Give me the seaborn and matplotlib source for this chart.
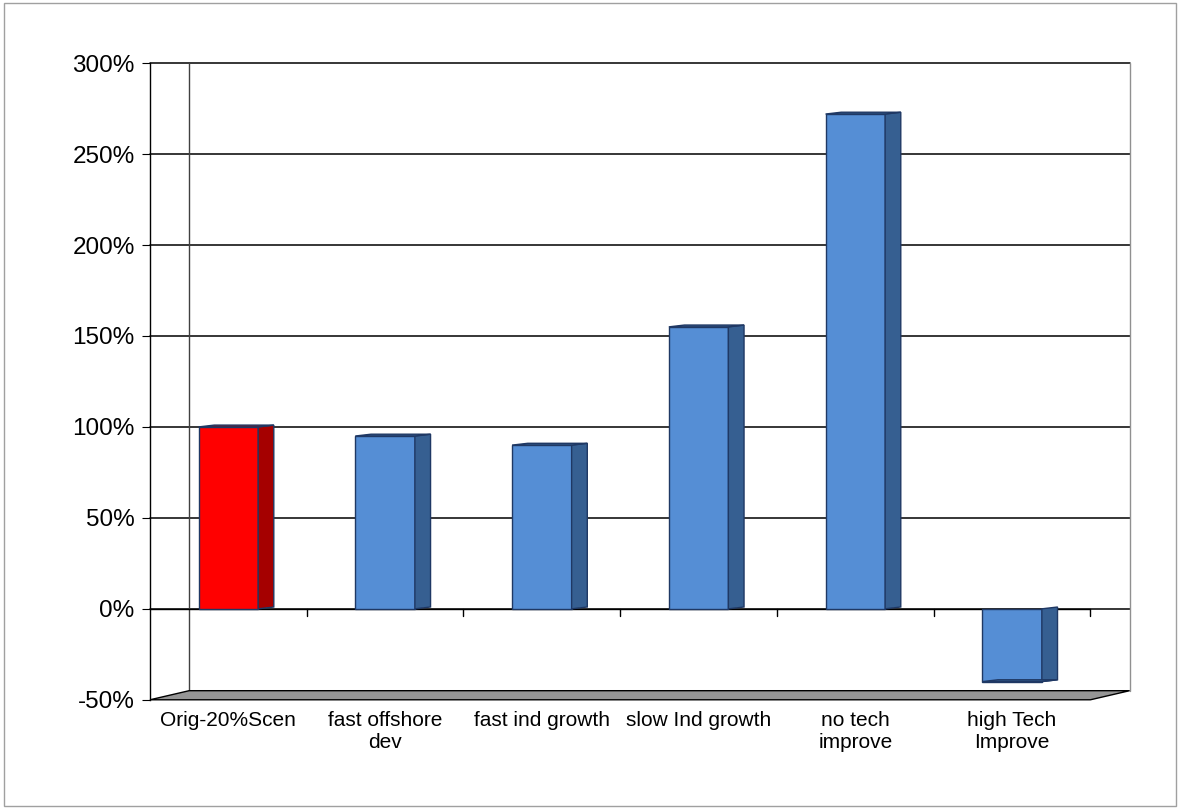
import matplotlib
matplotlib.use('Agg')
import matplotlib.pyplot as plt
import seaborn as sns
import pandas as pd
from matplotlib.patches import Polygon, Rectangle
from matplotlib.ticker import FuncFormatter

# scenario results (percent)
scenarios = ['Orig-20%Scen', 'fast offshore\ndev', 'fast ind growth',
             'slow Ind growth', 'no tech\nimprove', 'high Tech\nImprove']
values = [100, 95, 90, 155, 272, -40]
front_colors = ['#FF0000', '#558ED5', '#558ED5', '#558ED5', '#558ED5', '#558ED5']
side_colors = ['#A50000', '#365F91', '#365F91', '#365F91', '#365F91', '#365F91']
y_ticks = [-50, 0, 50, 100, 150, 200, 250, 300]

df = pd.DataFrame({'scenario': scenarios, 'value': values})

sns.set_style('white')
plt.rcParams['font.family'] = ['Liberation Sans', 'DejaVu Sans']

fig = plt.figure(figsize=(11.8, 8.09), dpi=100)
ax = fig.add_axes([0.1271, 0.135, 0.797, 0.787])

ax.set_xlim(-0.5, 5.5)
ax.set_ylim(-50, 300)

dx = 0.25                   # depth of the back wall
bd, bdy = 0.1, 1.0          # depth of each bar

sns.barplot(data=df, x='scenario', y='value', hue='scenario', palette=front_colors,
            legend=False, width=0.38, edgecolor='#1F3864', linewidth=1, ax=ax,
            zorder=3, saturation=1)
bars = [p for p in ax.patches if isinstance(p, Rectangle)]
bars = sorted(bars, key=lambda p: p.get_x())

# back wall gridlines
for v in y_ticks[1:]:
    ax.plot([-0.5, 5.5 + dx], [v, v], color='black', lw=1.1, zorder=1, clip_on=False)
ax.plot([-0.5 + dx, -0.5 + dx], [-45, 300], color='#404040', lw=1, zorder=1, clip_on=False)
ax.plot([5.5 + dx, 5.5 + dx], [-45, 300], color='#909090', lw=1, zorder=1, clip_on=False)

# floor
floor = Polygon([(-0.5, -50), (5.5, -50), (5.5 + dx, -45), (-0.5 + dx, -45)],
                closed=True, facecolor='#969696', edgecolor='black', lw=1, zorder=1,
                clip_on=False)
ax.add_patch(floor)

# front zero line with category ticks
ax.plot([-0.5, 5.5], [0, 0], color='black', lw=1, zorder=2, clip_on=False)
for k in range(6):
    ax.plot([k + 0.5, k + 0.5], [0, -4], color='black', lw=1, zorder=2, clip_on=False)

# side and top faces of each bar
for i, patch in enumerate(bars):
    x0 = patch.get_x()
    w = patch.get_width()
    y0 = patch.get_y()
    h = patch.get_height()
    top = y0 + h
    xr = x0 + w
    side = Polygon([(xr, y0), (xr + bd, y0 + bdy), (xr + bd, top + bdy), (xr, top)],
                   closed=True, facecolor=side_colors[i], edgecolor='#1F3864', lw=1, zorder=3)
    lid = Polygon([(x0, top), (x0 + bd, top + bdy), (xr + bd, top + bdy), (xr, top)],
                  closed=True, facecolor=side_colors[i], edgecolor='#1F3864', lw=1, zorder=3)
    ax.add_patch(side)
    ax.add_patch(lid)

ax.set_yticks(y_ticks)
ax.yaxis.set_major_formatter(FuncFormatter(lambda v, p: f'{int(v)}%'))
ax.tick_params(axis='y', labelsize=17.5, length=6, direction='out', left=True,
               colors='black', pad=5)
ax.tick_params(axis='x', labelsize=15, length=0, pad=8, labelcolor='black')
ax.set_xlabel('')
ax.set_ylabel('')

for s in ['top', 'right', 'bottom']:
    ax.spines[s].set_visible(False)
ax.spines['left'].set_color('black')
ax.spines['left'].set_linewidth(1)

fig.patches.append(Rectangle((0.003, 0.004), 0.994, 0.992, transform=fig.transFigure,
                             fill=False, edgecolor='#A0A0A0', lw=1))

fig.savefig('out.png', dpi=100, facecolor='white')
